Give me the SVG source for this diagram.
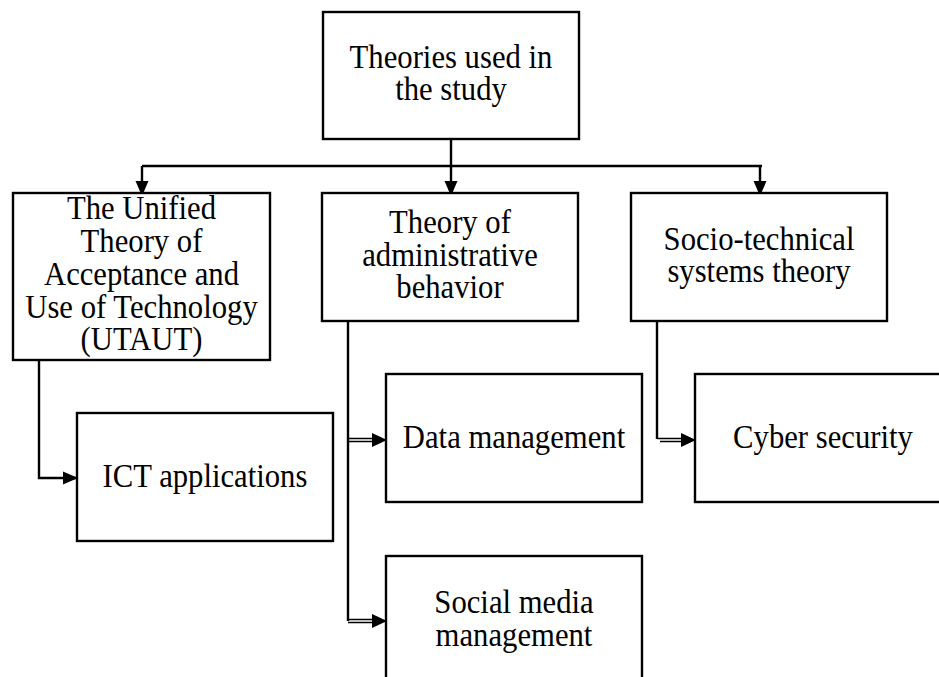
<svg xmlns="http://www.w3.org/2000/svg" width="939" height="677" viewBox="0 0 939 677">
<style>
.box{fill:#fff;stroke:#000;stroke-width:2.4}
.t{font-family:"Liberation Serif","Times New Roman",serif;font-size:33px;fill:#000;text-anchor:middle}
.ln{fill:none;stroke:#000;stroke-width:2.4}
.dl{fill:none;stroke:#000;stroke-width:1.3}
.ah{fill:#000}
</style>
<defs>
<marker id="arr" markerUnits="userSpaceOnUse" markerWidth="16" markerHeight="16" refX="15" refY="8" orient="auto">
<path d="M0,1.5 L15,8 L0,14.5 Z" fill="#000"/>
</marker>
</defs>
<g id="connectors">
<path class="ln" d="M451,139 V166"/>
<path class="ln" d="M142,166 H762"/>
<path class="ln" d="M142,166 V196" marker-end="url(#arr)"/>
<path class="ln" d="M451,166 V196" marker-end="url(#arr)"/>
<path class="ln" d="M760,166 V196" marker-end="url(#arr)"/>
<path class="ln" d="M39,360 V478 H78" marker-end="url(#arr)"/>
<path class="ln" d="M348,321 V621"/>
<path class="dl" d="M348,438.5 H376 M348,441.5 H376"/>
<path class="ah" d="M372,433 L387,440 L372,447 Z"/>
<path class="dl" d="M348,619.5 H376 M348,622.5 H376"/>
<path class="ah" d="M372,614 L387,621 L372,628 Z"/>
<path class="ln" d="M657,321 V439"/>
<path class="dl" d="M657,438.5 H685 M660,441.5 H685"/>
<path class="ah" d="M681,433 L696,440 L681,447 Z"/>
</g>
<g id="n-theories">
<rect class="box" x="323" y="12" width="256" height="127"/>
<text class="t" transform="translate(451,68) scale(0.93,1)">Theories used in</text>
<text class="t" transform="translate(451,100) scale(0.93,1)">the study</text>
</g>
<g id="n-utaut">
<rect class="box" x="13" y="193" width="257" height="167"/>
<text class="t" transform="translate(141.5,219) scale(0.93,1)">The Unified</text>
<text class="t" transform="translate(141.5,252) scale(0.93,1)">Theory of</text>
<text class="t" transform="translate(141.5,285) scale(0.93,1)">Acceptance and</text>
<text class="t" transform="translate(141.5,318) scale(0.93,1)">Use of Technology</text>
<text class="t" transform="translate(141.5,350) scale(0.93,1)">(UTAUT)</text>
</g>
<g id="n-admin">
<rect class="box" x="322" y="193" width="256" height="128"/>
<text class="t" transform="translate(450,233) scale(0.93,1)">Theory of</text>
<text class="t" transform="translate(450,266) scale(0.93,1)">administrative</text>
<text class="t" transform="translate(450,298) scale(0.93,1)">behavior</text>
</g>
<g id="n-socio">
<rect class="box" x="631" y="193" width="256" height="128"/>
<text class="t" transform="translate(759,250) scale(0.93,1)">Socio-technical</text>
<text class="t" transform="translate(759,282) scale(0.93,1)">systems theory</text>
</g>
<g id="n-ict">
<rect class="box" x="77" y="413" width="256" height="128"/>
<text class="t" transform="translate(205,487) scale(0.93,1)">ICT applications</text>
</g>
<g id="n-data">
<rect class="box" x="386" y="374" width="256" height="128"/>
<text class="t" transform="translate(514,448) scale(0.93,1)">Data management</text>
</g>
<g id="n-cyber">
<rect class="box" x="695" y="374" width="256" height="128"/>
<text class="t" transform="translate(823,448) scale(0.93,1)">Cyber security</text>
</g>
<g id="n-social">
<rect class="box" x="386" y="556" width="256" height="140"/>
<text class="t" transform="translate(514,613) scale(0.93,1)">Social media</text>
<text class="t" transform="translate(514,646) scale(0.93,1)">management</text>
</g>
</svg>
